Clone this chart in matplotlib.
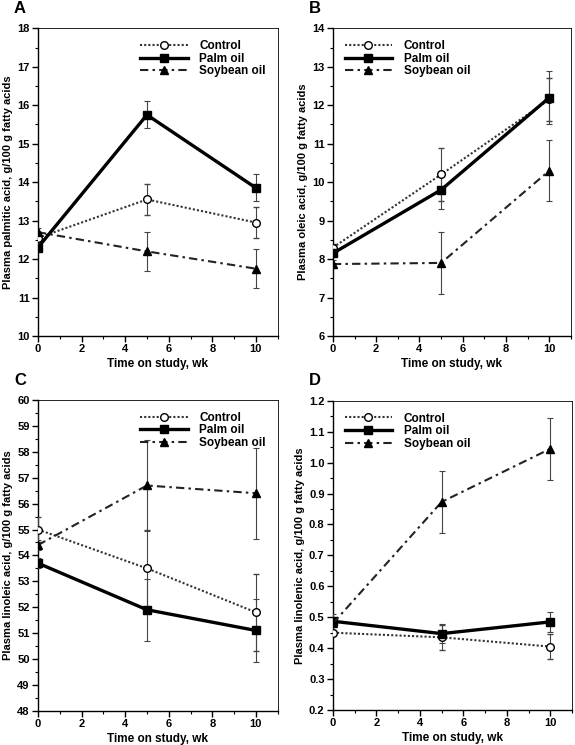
import numpy as np
import matplotlib
matplotlib.use('Agg')
import matplotlib.pyplot as plt
from matplotlib.ticker import MultipleLocator, FormatStrFormatter
from matplotlib.lines import Line2D

plt.rcParams['font.family'] = ['Liberation Sans', 'DejaVu Sans']
plt.rcParams['font.weight'] = 'bold'

weeks = [0, 5, 10]
groups = ['Control', 'Palm oil', 'Soybean oil']

# panel A: palmitic acid
palmitic = {'Control': [12.55, 13.55, 12.95], 'Palm oil': [12.3, 15.75, 13.85], 'Soybean oil': [12.7, 12.2, 11.75]}
palmitic_err = {'Control': [0.15, 0.4, 0.4], 'Palm oil': [0.1, 0.35, 0.35], 'Soybean oil': [0.1, 0.5, 0.5]}
# panel B: oleic acid
oleic = {'Control': [8.3, 10.2, 12.15], 'Palm oil': [8.15, 9.8, 12.2], 'Soybean oil': [7.87, 7.9, 10.3]}
oleic_err = {'Control': [0.1, 0.7, 0.55], 'Palm oil': [0.1, 0.5, 0.7], 'Soybean oil': [0.1, 0.8, 0.8]}
# panel C: linoleic acid
linoleic = {'Control': [55.0, 53.5, 51.8], 'Palm oil': [53.7, 51.9, 51.1], 'Soybean oil': [54.4, 56.7, 56.4]}
linoleic_err = {'Control': [0.5, 1.5, 1.5], 'Palm oil': [0.2, 1.2, 1.2], 'Soybean oil': [0.2, 1.75, 1.75]}
# panel D: linolenic acid
linolenic = {'Control': [0.45, 0.435, 0.405], 'Palm oil': [0.487, 0.447, 0.485], 'Soybean oil': [0.48, 0.873, 1.045]}
linolenic_err = {'Control': [0.01, 0.04, 0.04], 'Palm oil': [0.01, 0.03, 0.033], 'Soybean oil': [0.03, 0.1, 0.1]}

styles = {
    'Control': dict(ls=(0, (1, 1)), lw=1.5, marker='o', mfc='white', mec='black', ms=5.5, mew=1, color='#333333'),
    'Palm oil': dict(ls='-', lw=2.4, marker='s', mfc='black', mec='black', ms=5.5, color='black'),
    'Soybean oil': dict(ls=(0, (4, 2, 1.2, 2)), lw=1.5, marker='^', mfc='black', mec='black', ms=5.5, color='#222222'),
}

panels = [
    ('A', palmitic, palmitic_err, (10, 18), 1, 0.5, 'Plasma palmitic acid, g/100 g fatty acids', 'upper right', '%d'),
    ('B', oleic, oleic_err, (6, 14), 1, 0.5, 'Plasma oleic acid, g/100 g fatty acids', 'upper left', '%d'),
    ('C', linoleic, linoleic_err, (48, 60), 1, 0.5, 'Plasma linoleic acid, g/100 g fatty acids', 'upper right', '%d'),
    ('D', linolenic, linolenic_err, (0.2, 1.2), 0.1, 0.05, 'Plasma linolenic acid, g/100 g fatty acids', 'upper left', '%.1f'),
]

positions = [
    [0.066, 0.549, 0.417, 0.413],
    [0.579, 0.549, 0.414, 0.413],
    [0.066, 0.046, 0.417, 0.417],
    [0.579, 0.047, 0.416, 0.415],
]

fig = plt.figure(figsize=(5.75, 7.45), dpi=100)

for (label, vals, errs, ylim, major, minor, ylabel, loc, fmt), pos in zip(panels, positions):
    ax = fig.add_axes(pos)
    for g in groups:
        ax.errorbar(weeks, vals[g], yerr=errs[g], ecolor='#444444', elinewidth=0.8,
                    capsize=2, capthick=0.8, zorder=3, **styles[g])
    ax.set_xlim(0, 11)
    ax.set_ylim(*ylim)
    ax.set_xticks([0, 2, 4, 6, 8, 10])
    ax.xaxis.set_minor_locator(MultipleLocator(1))
    ax.yaxis.set_major_locator(MultipleLocator(major))
    ax.yaxis.set_minor_locator(MultipleLocator(minor))
    ax.yaxis.set_major_formatter(FormatStrFormatter(fmt))
    ax.tick_params(labelsize=8, width=1, length=4, pad=2)
    ax.tick_params(which='minor', width=0.8, length=2)
    for sp in ax.spines.values():
        sp.set_linewidth(1)
    ax.spines['top'].set_linewidth(0.6)
    ax.spines['right'].set_linewidth(0.6)
    ax.set_xlabel('Time on study, wk', fontsize=8.5, fontweight='bold', labelpad=3)
    ax.set_ylabel(ylabel, fontsize=8, fontweight='bold', labelpad=3)
    handles = [Line2D([], [], **styles[g]) for g in groups]
    ax.legend(handles, groups, loc=loc, frameon=False, fontsize=8.5, numpoints=1, handlelength=4,
              handletextpad=1.0, labelspacing=0.05, borderaxespad=0.6)
    ax.text(-0.1, 1.04, label, transform=ax.transAxes, fontsize=12, fontweight='bold', va='bottom')

fig.savefig('out.png', dpi=100)
